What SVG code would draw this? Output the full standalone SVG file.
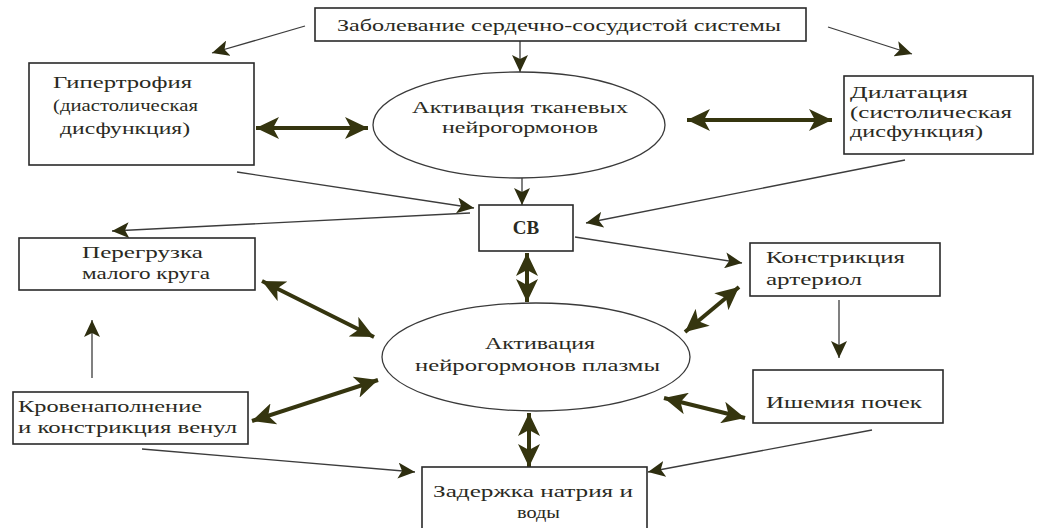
<svg xmlns="http://www.w3.org/2000/svg" width="1039" height="528" viewBox="0 0 1039 528">
<style>
.box{fill:#fff;stroke:#2a2a2a;stroke-width:1.6}
.ell{fill:#fff;stroke:#3a3a3a;stroke-width:1.3}
text{font-family:"Liberation Serif","DejaVu Serif",serif;font-size:17px;fill:#2a2a22}
.thin{fill:none;stroke:#3c3c3c;stroke-width:1.3;marker-end:url(#ah)}
.thick{fill:none;stroke:#35350f;stroke-width:4;marker-start:url(#big);marker-end:url(#big)}
</style>
<defs>
<marker id="ah" markerUnits="userSpaceOnUse" markerWidth="18" markerHeight="16" refX="17" refY="8" orient="auto">
<path d="M0,0 L17,8 L0,16 L4,8 z" fill="#2e2e10"/>
</marker>
<marker id="big" markerUnits="userSpaceOnUse" markerWidth="24" markerHeight="22" refX="23" refY="11" orient="auto-start-reverse">
<path d="M0,0 L23,11 L0,22 L6,11 z" fill="#35350f"/>
</marker>
</defs>
<rect width="1039" height="528" fill="#fff"/>

<g id="connectors">
<path class="thin" d="M305,26 L212,53"/>
<path class="thin" d="M828,27 L912,54"/>
<path class="thin" d="M520,41 L520,72"/>
<path class="thin" d="M522,178 L522,205"/>
<path class="thin" d="M237,172 L474,208"/>
<path class="thin" d="M470,213 L112,231"/>
<path class="thin" d="M905,160 L586,223"/>
<path class="thin" d="M575,237 L742,263"/>
<path class="thin" d="M839,300 L839,358"/>
<path class="thin" d="M92,378 L92,320"/>
<path class="thin" d="M142,449 L415,472"/>
<path class="thin" d="M872,430 L648,472"/>
<path class="thick" d="M256,128 L368,128"/>
<path class="thick" d="M687,120 L832,120"/>
<path class="thick" d="M527,253 L527,302"/>
<path class="thick" d="M262,281 L374,337"/>
<path class="thick" d="M739,287 L685,332"/>
<path class="thick" d="M252,421 L378,380"/>
<path class="thick" d="M664,398 L745,418"/>
<path class="thick" d="M529,413 L529,467"/>
</g>

<g id="n-disease">
<rect class="box" x="315" y="8" width="491" height="33"/>
<text x="337" y="31" textLength="444" lengthAdjust="spacingAndGlyphs">Заболевание сердечно-сосудистой системы</text>
</g>

<g id="n-hypertrophy">
<rect class="box" x="29" y="63" width="225" height="102"/>
<text x="53" y="88" textLength="139" lengthAdjust="spacingAndGlyphs">Гипертрофия</text>
<text x="53" y="111" textLength="145" lengthAdjust="spacingAndGlyphs">(диастолическая</text>
<text x="60" y="134" textLength="130" lengthAdjust="spacingAndGlyphs">дисфункция)</text>
</g>

<g id="n-tissue">
<ellipse class="ell" cx="519" cy="125" rx="146" ry="53"/>
<text x="412" y="113" textLength="216" lengthAdjust="spacingAndGlyphs">Активация тканевых</text>
<text x="442" y="133" textLength="156" lengthAdjust="spacingAndGlyphs">нейрогормонов</text>
</g>

<g id="n-dilatation">
<rect class="box" x="844" y="76" width="189" height="78"/>
<text x="850" y="98" textLength="118" lengthAdjust="spacingAndGlyphs">Дилатация</text>
<text x="850" y="118" textLength="162" lengthAdjust="spacingAndGlyphs">(систолическая</text>
<text x="850" y="137" textLength="133" lengthAdjust="spacingAndGlyphs">дисфункция)</text>
</g>

<g id="n-cv">
<rect class="box" x="479" y="205" width="94" height="46"/>
<text x="526" y="234" text-anchor="middle" style="font-weight:bold;font-size:19px">СВ</text>
</g>

<g id="n-overload">
<rect class="box" x="19" y="238" width="236" height="52"/>
<text x="82" y="258" textLength="121" lengthAdjust="spacingAndGlyphs">Перегрузка</text>
<text x="82" y="279" textLength="128" lengthAdjust="spacingAndGlyphs">малого круга</text>
</g>

<g id="n-arterioles">
<rect class="box" x="750" y="243" width="190" height="53"/>
<text x="766" y="263" textLength="139" lengthAdjust="spacingAndGlyphs">Констрикция</text>
<text x="766" y="285" textLength="96" lengthAdjust="spacingAndGlyphs">артериол</text>
</g>

<g id="n-plasma">
<ellipse class="ell" cx="536" cy="357" rx="154" ry="54"/>
<text x="485" y="349" textLength="110" lengthAdjust="spacingAndGlyphs">Активация</text>
<text x="415" y="371" textLength="245" lengthAdjust="spacingAndGlyphs">нейрогормонов плазмы</text>
</g>

<g id="n-ischemia">
<rect class="box" x="753" y="370" width="190" height="53"/>
<text x="766" y="408" textLength="156" lengthAdjust="spacingAndGlyphs">Ишемия почек</text>
</g>

<g id="n-blood">
<rect class="box" x="13" y="392" width="235" height="52"/>
<text x="18" y="412" textLength="184" lengthAdjust="spacingAndGlyphs">Кровенаполнение</text>
<text x="18" y="433" textLength="219" lengthAdjust="spacingAndGlyphs">и констрикция венул</text>
</g>

<g id="n-retention">
<rect class="box" x="422" y="467" width="225" height="70"/>
<text x="433" y="497" textLength="200" lengthAdjust="spacingAndGlyphs">Задержка натрия и</text>
<text x="517" y="518" textLength="43" lengthAdjust="spacingAndGlyphs">воды</text>
</g>
</svg>
